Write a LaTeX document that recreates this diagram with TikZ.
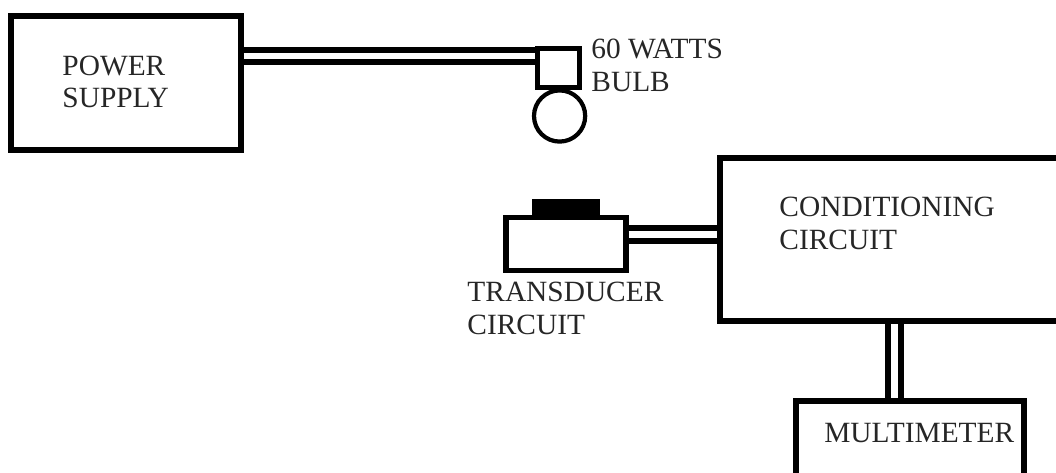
\documentclass[tikz,border=0pt]{standalone}
\usepackage{fontspec}
\setmainfont{Liberation Serif}
\usetikzlibrary{positioning,calc}

\begin{document}
\begin{tikzpicture}[font=\fontsize{20.9}{23.2}\selectfont,
  blockbox/.style={draw=black,rectangle,line width=4.2pt,inner sep=0pt},
  bulbcap/.style={blockbox,line width=3.6pt},
  wire/.style={draw=black,line width=4.2pt,double=white,double distance=4.6pt},
  lbl/.style={align=left,inner sep=0pt,anchor=north west,text=black!85}]
\useasboundingbox (0,0) rectangle (26.4,11.8);
% Power supply and bulb
\node[blockbox,minimum width=5.75cm,minimum height=3.35cm] (power) at (3.15,9.73){};
\node[bulbcap,minimum width=1.05cm,minimum height=0.98cm] (cap) at (13.96,10.1){};
\node[circle,draw=black,line width=3pt,inner sep=0pt,minimum size=1.28cm] (bulb) at (13.99,8.9){};
\coordinate (capin) at ([yshift=0.3cm]cap.west);
\draw[wire] (power.east |- capin) -- (capin);
\node[lbl] (powerlbl) at (1.555,10.41) {POWER\\SUPPLY};
\node[lbl] (bulblbl) at (14.78,10.83) {60 WATTS\\BULB};
% Transducer
\node[blockbox,line width=3.8pt,minimum width=3.0cm,minimum height=1.33cm] (sensor) at (14.15,5.7){};
\node[rectangle,fill=black,inner sep=0pt,minimum width=1.7cm,minimum height=0.44cm,above=-1.5pt of sensor.north] (sensortop) {};
\node[lbl] (sensorlbl) at (11.68,4.75) {TRANSDUCER\\CIRCUIT};
% Conditioning circuit and meter
\node[blockbox,minimum width=8.5cm,minimum height=4.08cm] (cond) at (22.25,5.81){};
\node[lbl] (condlbl) at (19.48,6.875) {CONDITIONING\\CIRCUIT};
\node[blockbox,minimum width=5.72cm,minimum height=3cm] (meter) at (22.75,0.275){};
\node[lbl] (meterlbl) at (20.6,1.225) {MULTIMETER};
\coordinate (condin) at ([yshift=0.125cm]cond.west);
\draw[wire] (sensor.east |- condin) -- (condin);
\coordinate (condout) at (22.36,0 |- cond.south);
\draw[wire] (condout) -- (condout |- meter.north);
\end{tikzpicture}
\end{document}
